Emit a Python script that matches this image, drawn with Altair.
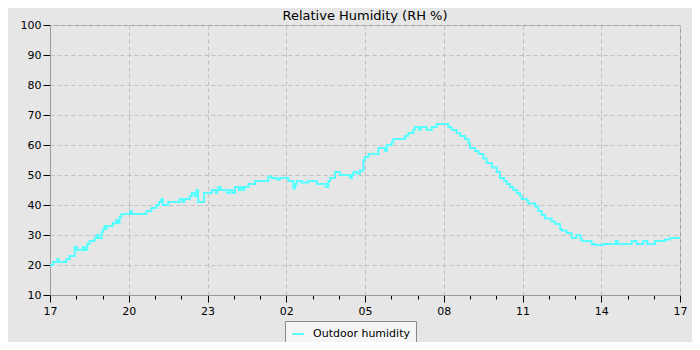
import altair as alt
import pandas as pd

hours = [0.00, 0.12, 0.28, 0.33, 0.45, 0.62, 0.75, 0.94, 1.02, 1.19, 1.25, 1.32, 1.42, 1.51,
         1.70, 1.78, 1.85, 1.96, 2.02, 2.08, 2.12, 2.15, 2.40, 2.52, 2.60, 2.65, 2.72, 3.05,
         3.12, 3.20, 3.67, 3.86, 4.05, 4.15, 4.24, 4.30, 4.50, 4.94, 5.05, 5.12, 5.32, 5.40,
         5.50, 5.58, 5.64, 5.87, 6.16, 6.32, 6.36, 6.41, 6.50, 6.75, 6.85, 6.95, 7.05, 7.20,
         7.25, 7.34, 7.40, 7.56, 7.81, 8.32, 8.44, 8.63, 8.75, 9.08, 9.27, 9.34, 9.40, 9.59,
         9.84, 10.16, 10.51, 10.60, 10.67, 10.86, 11.05, 11.43, 11.50, 11.56, 11.70, 11.81,
         11.94, 12.00, 12.13, 12.51, 12.76, 12.83, 13.02, 13.08, 13.52, 13.65, 13.84, 13.90,
         14.05, 14.12, 14.35, 14.54, 14.73, 15.17, 15.30, 15.49, 15.62, 15.81, 15.94, 16.00,
         16.19, 16.32, 16.51, 16.63, 16.83, 17.02, 17.14, 17.30, 17.40, 17.52, 17.65, 17.78,
         17.90, 17.97, 18.16, 18.22, 18.48, 18.60, 18.73, 18.86, 19.11, 19.24, 19.43, 19.49,
         19.68, 19.87, 20.06, 20.20, 20.25, 20.63, 20.76, 21.08, 21.55, 21.62, 22.16, 22.35,
         22.60, 22.75, 23.05, 23.43, 23.62, 24.00]
humidity = [20, 21, 22, 21, 21, 22, 23, 26, 25, 25, 26, 25, 27, 28,
            29, 30, 29, 31, 32, 33, 32, 33, 34, 35, 34, 36, 37, 38,
            37, 37, 38, 39, 40, 41, 42, 40, 41, 42, 41, 42, 43, 44,
            43, 45, 41, 44, 45, 44, 45, 46, 45, 44, 45, 44, 46, 45,
            46, 45, 46, 47, 48, 49.5, 49, 48.5, 49, 48, 45.5, 47, 48, 47.5,
            48, 47, 46, 48, 49, 51, 50, 49, 50, 51, 50.5, 51.5,
            55, 56, 57, 59, 58, 60, 61, 62, 63, 64, 65, 66,
            65, 66, 65, 66, 67, 66, 65, 64, 63, 62, 60.5, 59,
            58, 57, 55.5, 54, 52.5, 51, 49, 48, 47, 46, 45, 44,
            43, 42, 41.5, 40.5, 39.5, 38, 36.7, 35.5, 34.5, 33.7, 32, 31.5,
            30.7, 29, 30, 29, 28, 27, 26.7, 27, 28, 27, 28, 27,
            28, 27, 28, 28.5, 29, 29]
series_name = "Outdoor humidity"
start_hour = 17
x_ticks = list(range(0, 25))
y_ticks = list(range(10, 101, 10))

df = pd.DataFrame({"t": hours, "rh": humidity, "series": series_name})

major = "datum.value % 3 === 0"
label_expr = (f"datum.value % 3 === 0 ? ((({start_hour} + datum.value) % 24) < 10 ? '0' : '') + "
              f"(({start_hour} + datum.value) % 24) : ''")

x_axis = alt.Axis(
    values=x_ticks, title=None, labelExpr=label_expr, labelOverlap=False, labelFlush=False,
    tickSize={"condition": {"test": major, "value": 7}, "value": 4},
    gridOpacity={"condition": {"test": major, "value": 1}, "value": 0},
    labelPadding=3,
)
y_axis = alt.Axis(values=y_ticks, title=None, tickSize=7, labelPadding=2)

chart = alt.Chart(df).mark_line(interpolate="step-after", strokeWidth=2).encode(
    x=alt.X("t:Q", scale=alt.Scale(domain=[0, 24], nice=False, zero=False), axis=x_axis),
    y=alt.Y("rh:Q", scale=alt.Scale(domain=[10, 100], nice=False, zero=False), axis=y_axis),
    color=alt.Color("series:N", scale=alt.Scale(domain=[series_name], range=["#55ffff"]),
                    legend=alt.Legend(title=None, orient="none", legendX=235, legendY=296,
                                      symbolType="stroke", symbolStrokeWidth=2, symbolSize=130,
                                      labelFontSize=11, labelColor="#000", labelFont="DejaVu Sans",
                                      labelOffset=8, padding=6, fillColor="#f5f5f5",
                                      strokeColor="#888888", cornerRadius=0)),
).properties(
    width=630, height=270,
    title=alt.TitleParams("Relative Humidity (RH %)", fontSize=13, font="DejaVu Sans",
                          fontWeight="normal", color="#000", offset=0, dy=3.5),
    autosize=alt.AutoSizeParams(type="none"),
    padding={"left": 42, "top": 17, "right": 12, "bottom": 47},
).configure(
    background="#e6e6e6",
).configure_view(
    stroke="#999999", strokeWidth=1, fill="#e6e6e6",
).configure_axis(
    labelFont="DejaVu Sans", labelFontSize=11, labelColor="#000",
    domainColor="#999999", domainWidth=1, tickColor="#000", tickWidth=1,
    gridColor="#c0c0c0", gridDash=[4, 3], gridWidth=1,
)

chart.save("out.html", embed_options={"renderer": "svg", "actions": False})
